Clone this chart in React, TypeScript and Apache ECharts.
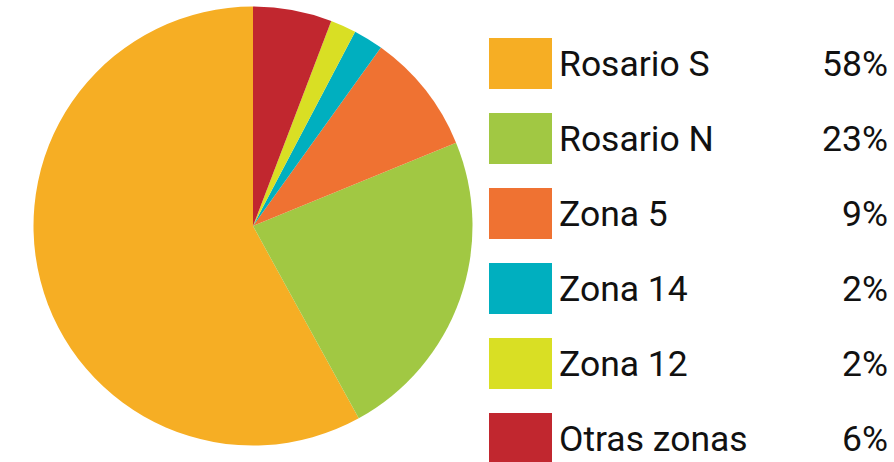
import React, { useEffect, useRef } from "react";
import * as echarts from "echarts";

const categories = ["Rosario S", "Rosario N", "Zona 5", "Zona 14", "Zona 12", "Otras zonas"];
const values = [58.0, 23.2, 8.9, 2.2, 1.9, 5.8];
const colors = ["#F6AE24", "#A1C843", "#EF7232", "#00AFBF", "#D9DF24", "#C1272F"];

export default function App() {
  const ref = useRef<HTMLDivElement>(null);
  useEffect(() => {
    document.body.style.margin = "0";
    const chart = echarts.init(ref.current!, null, { renderer: "svg" });
    const total = values.reduce((a, b) => a + b, 0);
    const pct: Record<string, string> = {};
    categories.forEach((c, i) => {
      pct[c] = Math.round((values[i] / total) * 100) + "%";
    });
    chart.setOption({
      animation: false,
      color: colors,
      legend: {
        orient: "vertical",
        left: 489,
        top: 38,
        height: 440,
        padding: 0,
        itemWidth: 63,
        itemHeight: 51,
        itemGap: 24,
        icon: "rect",
        selectedMode: false,
        data: categories,
        formatter: (name: string) => `{n|${name}}{p|${pct[name]}}`,
        textStyle: {
          fontFamily: "Roboto",
          fontSize: 35.5,
          color: "#111",
          rich: {
            n: { fontFamily: "Roboto", fontSize: 35.5, color: "#111", width: 229, padding: [0, 0, 0, 2] },
            p: { fontFamily: "Roboto", fontSize: 35.5, color: "#111", width: 100, align: "right" },
          },
        },
      },
      series: [
        {
          type: "pie",
          center: [253, 226],
          radius: 219.5,
          startAngle: 90,
          clockwise: false,
          silent: true,
          label: { show: false },
          labelLine: { show: false },
          itemStyle: { borderWidth: 0 },
          emphasis: { disabled: true },
          data: categories.map((c, i) => ({ name: c, value: values[i] })),
        },
      ],
    });
    return () => chart.dispose();
  }, []);
  return <div ref={ref} style={{ width: 894, height: 462 }} />;
}
